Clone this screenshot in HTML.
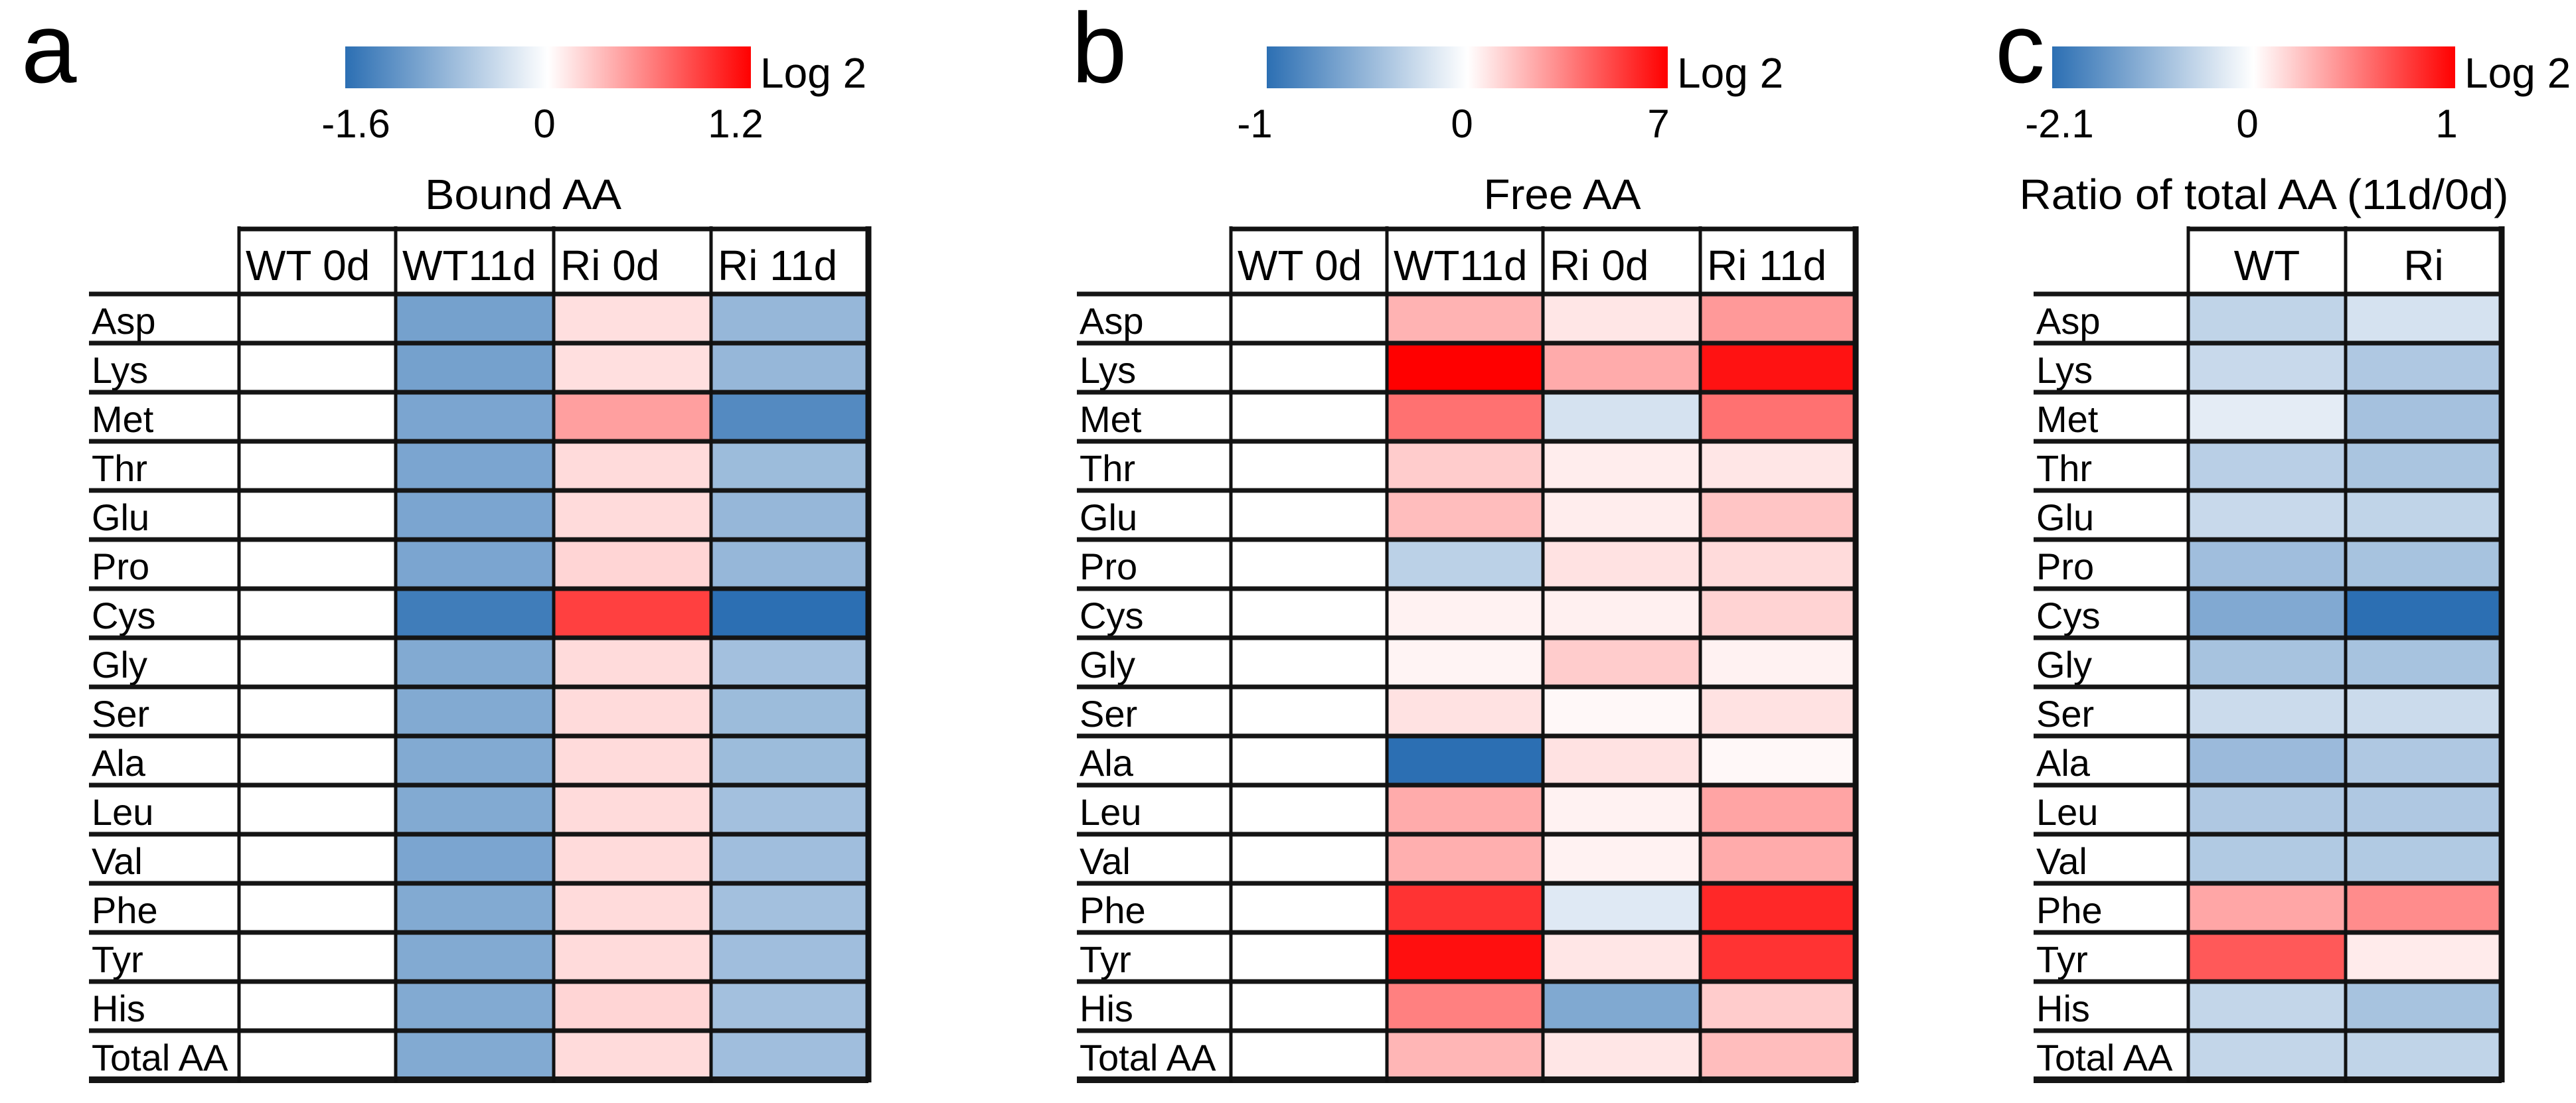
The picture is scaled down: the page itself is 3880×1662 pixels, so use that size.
<!DOCTYPE html>
<html><head><meta charset="utf-8"><style>
html,body{margin:0;padding:0;background:#fff;}
svg{display:block;}
text{font-family:"Liberation Sans",Arial,sans-serif;fill:#000;}
</style></head><body>
<svg id="fig" width="3880" height="1662" viewBox="0 0 3880 1662" xmlns="http://www.w3.org/2000/svg">
<defs>
<linearGradient id="cbar" x1="0" x2="1" y1="0" y2="0">
<stop offset="0" stop-color="#2c6fb3"/><stop offset="0.5" stop-color="#ffffff"/><stop offset="1" stop-color="#ff0000"/>
</linearGradient>
</defs>
</svg>
<script>
const rowLabels = ["Asp","Lys","Met","Thr","Glu","Pro","Cys","Gly","Ser","Ala","Leu","Val","Phe","Tyr","His","Total AA"];
// Panel a: Bound AA
const aColumns = ["WT 0d","WT11d","Ri 0d","Ri 11d"];
const aTicks = ["-1.6","0","1.2"];
const aWT0d = [0,0,0,0,0,0,0,0,0,0,0,0,0,0,0,0];
const aWT11d = [-1.05,-1.05,-1.0,-1.0,-1.0,-1.0,-1.45,-0.95,-0.95,-0.95,-0.95,-1.0,-0.95,-0.95,-0.95,-0.95];
const aRi0d = [0.15,0.15,0.45,0.17,0.17,0.2,0.9,0.17,0.17,0.17,0.17,0.17,0.17,0.17,0.2,0.17];
const aRi11d = [-0.8,-0.8,-1.3,-0.75,-0.8,-0.8,-1.6,-0.7,-0.75,-0.75,-0.7,-0.72,-0.7,-0.72,-0.7,-0.72];
// Panel b: Free AA
const bColumns = ["WT 0d","WT11d","Ri 0d","Ri 11d"];
const bTicks = ["-1","0","7"];
const bWT0d = [0,0,0,0,0,0,0,0,0,0,0,0,0,0,0,0];
const bWT11d = [2.1,7,3.9,1.4,1.8,-0.32,0.35,0.3,0.8,-1,2.3,2.2,5.6,6.6,3.5,2.0];
const bRi0d = [0.7,2.3,-0.2,0.5,0.5,0.8,0.4,1.4,0.2,0.8,0.35,0.35,-0.15,0.7,-0.6,0.7];
const bRi11d = [2.8,6.5,3.9,0.7,1.6,1.0,1.2,0.35,0.8,0.2,2.5,2.3,5.9,5.6,1.4,1.8];
// Panel c: Ratio of total AA (11d/0d)
const cColumns = ["WT","Ri"];
const cTicks = ["-2.1","0","1"];
const cWT = [-0.63,-0.55,-0.27,-0.7,-0.55,-0.95,-1.25,-0.88,-0.52,-1.0,-0.8,-0.78,0.35,0.65,-0.6,-0.6];
const cRi = [-0.42,-0.8,-0.9,-0.85,-0.63,-0.88,-2.1,-0.88,-0.52,-0.8,-0.8,-0.78,0.45,0.08,-0.88,-0.63];
const aRange = [-1.6, 1.2], bRange = [-1, 7], cRange = [-2.1, 1];

const NS = "http://www.w3.org/2000/svg";
const svg = document.getElementById("fig");
function mk(tag, attrs, parent){ const e=document.createElementNS(NS,tag); for(const k in attrs) e.setAttribute(k,attrs[k]); (parent||svg).appendChild(e); return e; }
function lerp(a,b,t){ return Math.round(a+(b-a)*t); }
function colorFor(v, range){
  if(v<0){ const t=Math.min(1,v/range[0]); return `rgb(${lerp(255,44,t)},${lerp(255,111,t)},${lerp(255,179,t)})`; }
  const t=Math.min(1,v/range[1]); return `rgb(255,${lerp(255,0,t)},${lerp(255,0,t)})`;
}
const ROW_TOP=443, ROW_H=74, HEAD_TOP=345;

function panel(p){
  const g = mk("g",{});
  
  
  const L = mk("text",{x:p.letterX,y:124,"font-size":150},g); L.textContent=p.letter;
  
  
  const cb = mk("rect",{x:p.cbX0,y:70,width:p.cbX1-p.cbX0,height:63,fill:"url(#cbar)"},g);
  
  
  const lg = mk("text",{x:p.cbX1+14,y:132,"font-size":64},g); lg.textContent="Log 2";
  
  
  p.ticks.forEach((t,i)=>{
    const tx = mk("text",{x:p.tickX[i],y:207,"font-size":60,"text-anchor":"middle"},g); tx.textContent=t;
    
    
  });
  const ti = mk("text",{x:p.titleX,y:315,"font-size":64,"text-anchor":"middle",textLength:p.titleW,lengthAdjust:"spacingAndGlyphs"},g); ti.textContent=p.title;
  
  
  const edges=p.edges, n=rowLabels.length, bottom=ROW_TOP+n*ROW_H;
  p.series.forEach((vals,ci)=>{
    vals.forEach((v,ri)=>{
      const r = mk("rect",{x:edges[ci],y:ROW_TOP+ri*ROW_H,width:edges[ci+1]-edges[ci],height:ROW_H,fill:colorFor(v,p.range)},g);
      
      
    });
  });
  p.columns.forEach((c,ci)=>{
    const attrs = p.centerHead ? {x:(edges[ci]+edges[ci+1])/2,y:422,"font-size":64,"text-anchor":"middle"} : {x:edges[ci]+10,y:422,"font-size":64};
    const h = mk("text",attrs,g); h.textContent=c;
    
    
  });
  rowLabels.forEach((rl,ri)=>{
    const t = mk("text",{x:p.labelX+4,y:ROW_TOP+ri*ROW_H+60,"font-size":56},g); t.textContent=rl;
    
    
  });
  mk("line",{x1:edges[0],x2:edges[edges.length-1]+4,y1:HEAD_TOP,y2:HEAD_TOP,stroke:"#111","stroke-width":7},g);
  for(let ri=0;ri<=n;ri++){
    mk("line",{x1:p.labelX,x2:edges[edges.length-1],y1:ROW_TOP+ri*ROW_H,y2:ROW_TOP+ri*ROW_H,stroke:"#151515","stroke-width":ri===n?10:7},g);
  }
  edges.forEach((x,i)=>{
    mk("line",{x1:x,x2:x,y1:HEAD_TOP-4,y2:bottom+4,stroke:"#111","stroke-width":i===edges.length-1?9:5},g);
  });
}
panel({name:"panel-a-bound-aa",letter:"a",letterX:32,cbX0:520,cbX1:1131,ticks:aTicks,tickX:[536,820,1108],title:"Bound AA",titleX:788,titleW:296,
  edges:[360,596,834,1071,1308],labelX:134,columns:aColumns,series:[aWT0d,aWT11d,aRi0d,aRi11d],range:aRange});
panel({name:"panel-b-free-aa",letter:"b",letterX:1614,cbX0:1908,cbX1:2512,ticks:bTicks,tickX:[1890,2202,2498],title:"Free AA",titleX:2353,titleW:237,
  edges:[1854,2089,2324,2561,2795],labelX:1622,columns:bColumns,series:[bWT0d,bWT11d,bRi0d,bRi11d],range:bRange});
panel({name:"panel-c-ratio-total-aa",letter:"c",letterX:3005,cbX0:3091,cbX1:3698,ticks:cTicks,tickX:[3102,3385,3685],title:"Ratio of total AA (11d/0d)",titleX:3410,titleW:737,
  edges:[3296,3533,3768],labelX:3063,columns:cColumns,series:[cWT,cRi],range:cRange,centerHead:true});
</script>
</body></html>
